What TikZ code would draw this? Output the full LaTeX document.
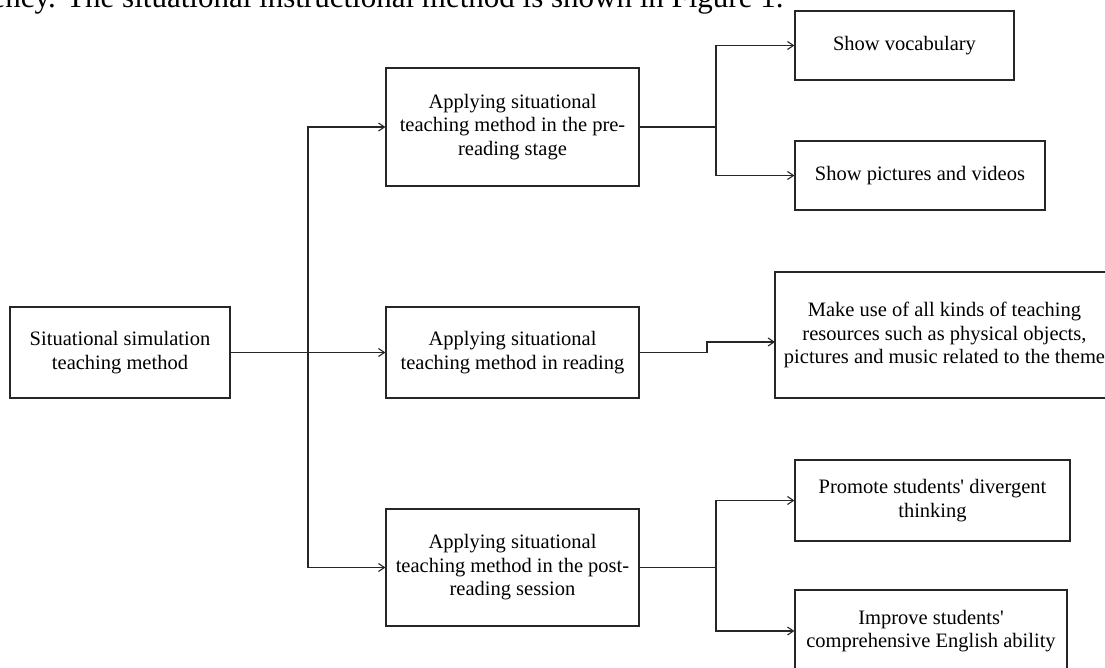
\documentclass[tikz,border=0pt]{standalone}
\usepackage{fontspec}
\setmainfont{Liberation Serif}[Ligatures=TeXOff]
\usetikzlibrary{arrows.meta}
\newcommand\boxfont{\fontsize{20.5}{23.5}\selectfont}
\begin{document}
\begin{tikzpicture}
    [x=1pt, y=-1pt,
    bx/.style={draw=black!85, line width=1.1pt, align=center, inner sep=0pt, font=\boxfont},
    arr/.style={draw=black!85, line width=1.1pt, -{Straight Barb[length=6pt,width=8pt]}},
    ln/.style={draw=black!85, line width=1.1pt}]
    \useasboundingbox (0,0) rectangle (1105,668);
    \node[anchor=base east, font=\fontsize{31}{35}\selectfont] (cap) at (787,8)
      {efficiency. The situational instructional method is shown in Figure 1.};
    \node[bx, minimum width=220pt, minimum height=91pt] (root) at (120,352.5)
      {Situational simulation\\teaching method};
    \node[bx, minimum width=253pt, minimum height=118pt] (pre) at (512.5,127)
      {Applying situational\\teaching method in the pre-\\reading stage};
    \node[bx, minimum width=253pt, minimum height=91pt] (read) at (512.5,352.5)
      {Applying situational\\teaching method in reading};
    \node[bx, minimum width=253pt, minimum height=117pt] (post) at (512.5,567.5)
      {Applying situational\\teaching method in the post-\\reading session};
    \node[bx, minimum width=219pt, minimum height=69pt] (vocab) at (904.5,45.5)
      {Show vocabulary};
    \node[bx, minimum width=250pt, minimum height=69pt] (pics) at (920,175.5)
      {Show pictures and videos};
    \node[bx, minimum width=339pt, minimum height=126pt] (theme) at (944.5,335)
      {Make use of all kinds of teaching\\resources such as physical objects,\\pictures and music related to the theme};
    \node[bx, minimum width=275pt, minimum height=81pt] (diverg) at (932.5,500.5)
      {Promote students' divergent\\thinking};
    \node[bx, minimum width=272pt, minimum height=82pt] (english) at (931,631)
      {Improve students'\\comprehensive English ability};
    \coordinate (split) at (308,0);
    \coordinate (preSplit) at (716,0);
    \coordinate (postSplit) at (716,0);
    \coordinate (readBend) at (707,352.5);
    \coordinate (themeIn) at (775,342);
    \draw[arr] (root.east) -- (read.west);
    \draw[arr] (split |- root.east) |- (pre.west);
    \draw[arr] (split |- root.east) |- (post.west);
    \draw[ln] (pre.east) -- (preSplit |- pre.east);
    \draw[arr] (preSplit |- pre.east) |- (vocab.west);
    \draw[arr] (preSplit |- pre.east) |- (pics.west);
    \draw[arr] (read.east) -- (readBend) |- (themeIn);
    \draw[ln] (post.east) -- (postSplit |- post.east);
    \draw[arr] (postSplit |- post.east) |- (diverg.west);
    \draw[arr] (postSplit |- post.east) |- (english.west);
\end{tikzpicture}
\end{document}
